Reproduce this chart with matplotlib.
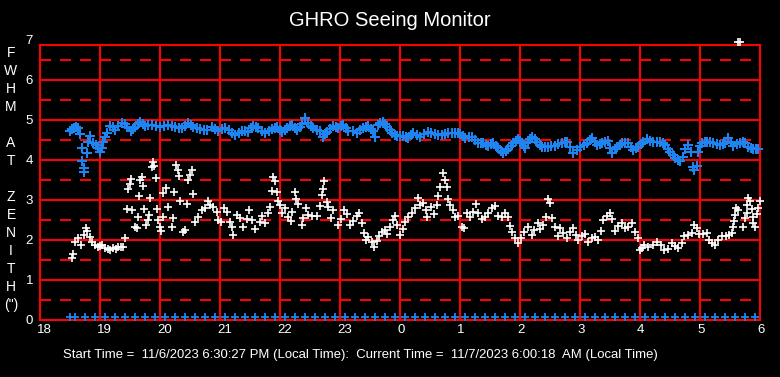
import matplotlib
matplotlib.use("Agg")
import matplotlib.pyplot as plt
import matplotlib.transforms as mtransforms
import numpy as np

plt.rcParams["font.family"] = ["Liberation Sans", "DejaVu Sans"]
plt.rcParams["lines.scale_dashes"] = False

# times are minutes after 18:00 local, FWHM in arcsec
blue_min = [30, 32, 34, 36, 38, 40, 50, 48, 42, 47, 42, 44, 44, 53, 56, 58, 60, 62, 63, 65,
            67, 70, 73, 75, 78, 82, 85, 87, 91, 93, 95, 98, 100, 103, 105, 108, 112, 116, 120, 124,
            128, 132, 135, 139, 142, 145, 148, 151, 153, 157, 160, 164, 167, 172, 175, 178, 182, 185, 189, 192,
            195, 199, 202, 205, 208, 211, 213, 216, 218, 222, 225, 229, 232, 235, 237, 240, 242, 245, 247, 250,
            252, 255, 257, 260, 262, 265, 268, 271, 273, 277, 280, 283, 285, 287, 290, 293, 296, 298, 301, 303,
            306, 308, 313, 317, 320, 323, 326, 328, 331, 333, 335, 338, 340, 343, 345, 347, 350, 352, 355, 357,
            360, 363, 366, 368, 371, 373, 377, 380, 384, 388, 391, 395, 398, 402, 405, 408, 412, 415, 418, 420,
            423, 425, 429, 432, 435, 438, 441, 443, 446, 448, 451, 453, 456, 458, 461, 463, 466, 468, 471, 473,
            476, 478, 480, 482, 484, 485, 488, 490, 492, 495, 497, 500, 502, 505, 508, 511, 515, 518, 522, 525,
            527, 530, 533, 537, 540, 544, 547, 550, 552, 555, 557, 560, 562, 565, 568, 570, 572, 575, 577, 580,
            582, 585, 588, 591, 593, 596, 598, 601, 603, 607, 610, 613, 617, 620, 623, 625, 628, 630, 633, 635,
            638, 640, 643, 645, 648, 651, 653, 654, 657, 658, 660, 662, 665, 667, 670, 673, 677, 680, 683, 685,
            688, 691, 693, 697, 700, 703, 705, 708, 711, 713, 716, 718]
blue_fwhm = [4.72, 4.78, 4.80, 4.83, 4.80, 4.65, 4.60, 4.45, 4.30, 4.17, 3.97, 3.80, 3.70, 4.42, 4.38, 4.30, 4.20, 4.30, 4.45, 4.58,
             4.67, 4.85, 4.82, 4.75, 4.85, 4.93, 4.90, 4.83, 4.73, 4.78, 4.83, 4.90, 4.95, 4.90, 4.85, 4.88, 4.88, 4.85, 4.83, 4.86,
             4.88, 4.84, 4.82, 4.80, 4.80, 4.86, 4.92, 4.87, 4.83, 4.80, 4.78, 4.76, 4.75, 4.82, 4.78, 4.73, 4.77, 4.80, 4.74, 4.68,
             4.62, 4.68, 4.73, 4.72, 4.70, 4.80, 4.85, 4.83, 4.80, 4.73, 4.67, 4.73, 4.78, 4.81, 4.83, 4.76, 4.70, 4.75, 4.80, 4.85,
             4.88, 4.80, 4.75, 4.82, 4.90, 5.05, 4.92, 4.85, 4.80, 4.76, 4.73, 4.58, 4.64, 4.70, 4.78, 4.85, 4.82, 4.80, 4.85, 4.88,
             4.80, 4.73, 4.73, 4.68, 4.74, 4.80, 4.83, 4.85, 4.78, 4.73, 4.58, 4.88, 4.92, 4.95, 4.90, 4.83, 4.75, 4.68, 4.63, 4.60,
             4.60, 4.60, 4.57, 4.55, 4.62, 4.67, 4.62, 4.58, 4.64, 4.70, 4.67, 4.65, 4.63, 4.62, 4.65, 4.68, 4.68, 4.68, 4.67, 4.65,
             4.60, 4.55, 4.57, 4.58, 4.50, 4.42, 4.43, 4.42, 4.38, 4.35, 4.40, 4.42, 4.36, 4.30, 4.23, 4.18, 4.23, 4.28, 4.36, 4.42,
             4.48, 4.53, 4.48, 4.43, 4.36, 4.30, 4.44, 4.52, 4.58, 4.52, 4.45, 4.38, 4.33, 4.33, 4.33, 4.34, 4.35, 4.39, 4.42, 4.44,
             4.45, 4.33, 4.18, 4.26, 4.33, 4.38, 4.42, 4.50, 4.55, 4.45, 4.38, 4.40, 4.42, 4.45, 4.48, 4.30, 4.18, 4.27, 4.33, 4.38,
             4.42, 4.42, 4.42, 4.33, 4.25, 4.30, 4.33, 4.40, 4.45, 4.53, 4.48, 4.45, 4.45, 4.45, 4.42, 4.38, 4.28, 4.20, 4.12, 4.05,
             4.00, 3.98, 4.08, 4.28, 4.38, 4.20, 3.83, 3.75, 3.85, 4.20, 4.35, 4.42, 4.45, 4.45, 4.44, 4.43, 4.40, 4.38, 4.40, 4.42,
             4.55, 4.45, 4.35, 4.40, 4.42, 4.44, 4.43, 4.32, 4.30, 4.28, 4.28, 4.28]

white_min = [32, 33, 35, 38, 41, 44, 46, 47, 50, 52, 55, 58, 60, 62, 65, 68, 70, 73, 76, 78,
             81, 83, 85, 87, 92, 88, 90, 91, 100, 102, 103, 99, 104, 98, 110, 109, 108, 106, 95, 97,
             116, 113, 114, 112, 117, 118, 120, 121, 123, 123, 126, 128, 132, 133, 134, 136, 138, 139, 140, 143,
             145, 147, 148, 150, 152, 153, 155, 158, 162, 165, 168, 170, 173, 177, 178, 181, 184, 187, 190, 192,
             193, 197, 200, 203, 207, 209, 212, 215, 220, 222, 225, 228, 230, 232, 233, 235, 237, 238, 240, 242,
             245, 248, 251, 252, 255, 256, 258, 262, 263, 266, 268, 272, 277, 280, 282, 283, 284, 287, 288, 291,
             293, 298, 301, 304, 307, 310, 313, 317, 319, 322, 324, 326, 328, 332, 334, 337, 339, 342, 345, 347,
             350, 353, 355, 357, 360, 363, 365, 368, 372, 375, 378, 380, 383, 386, 387, 391, 394, 397, 398, 400,
             403, 405, 407, 408, 410, 413, 415, 418, 422, 424, 427, 430, 433, 436, 438, 442, 445, 448, 452, 455,
             458, 462, 465, 468, 470, 472, 475, 478, 481, 484, 488, 492, 494, 498, 500, 503, 506, 508, 510, 512,
             515, 518, 520, 523, 527, 530, 533, 536, 538, 542, 545, 548, 552, 555, 558, 561, 563, 567, 570, 572,
             575, 578, 582, 585, 588, 592, 595, 598, 600, 602, 604, 608, 613, 617, 621, 624, 628, 632, 635, 638,
             642, 644, 648, 652, 654, 657, 659, 663, 667, 669, 672, 675, 678, 682, 686, 689, 692, 693, 694, 695,
             696, 698, 703, 705, 707, 708, 710, 707, 712, 713, 713, 715, 717, 718, 720, 698, 700]
white_fwhm = [1.55, 1.65, 1.95, 2.05, 1.88, 2.12, 2.30, 2.23, 2.08, 1.95, 1.88, 1.83, 1.85, 1.88, 1.80, 1.78, 1.75, 1.80, 1.78, 1.83,
              1.82, 1.83, 2.05, 2.78, 2.75, 3.28, 3.40, 3.53, 3.50, 3.58, 3.35, 3.10, 2.78, 2.58, 3.05, 2.63, 2.50, 2.38, 2.33, 2.30,
              3.55, 3.95, 3.85, 3.83, 2.78, 2.50, 2.33, 2.23, 2.58, 3.18, 3.30, 2.83, 2.33, 2.55, 3.20, 3.88, 3.75, 3.60, 2.98, 2.20,
              2.25, 2.90, 3.50, 3.63, 3.75, 3.15, 2.45, 2.58, 2.75, 2.80, 2.98, 2.88, 2.83, 2.70, 2.50, 2.45, 2.80, 2.70, 2.45, 2.33,
              2.12, 2.63, 2.55, 2.33, 2.53, 2.75, 2.50, 2.28, 2.45, 2.60, 2.43, 2.68, 2.83, 3.23, 3.58, 3.48, 3.20, 2.98, 2.88, 2.68,
              2.80, 2.58, 2.48, 2.70, 3.20, 3.03, 2.90, 2.38, 2.55, 2.80, 2.63, 2.60, 2.60, 2.85, 3.13, 3.28, 3.48, 2.95, 2.83, 2.55,
              2.75, 2.38, 2.53, 2.75, 2.65, 2.38, 2.48, 2.60, 2.68, 2.43, 2.18, 2.00, 2.08, 1.95, 1.83, 1.98, 2.10, 2.20, 2.25, 2.15,
              2.33, 2.50, 2.60, 2.38, 2.12, 2.28, 2.45, 2.58, 2.68, 2.80, 3.05, 2.88, 2.93, 2.75, 2.58, 2.83, 2.65, 2.88, 3.10, 3.33,
              3.68, 3.50, 3.33, 3.03, 2.88, 2.75, 2.58, 2.60, 2.33, 2.30, 2.68, 2.58, 2.70, 2.90, 2.68, 2.53, 2.58, 2.68, 2.80, 2.85,
              2.60, 2.58, 2.68, 2.58, 2.35, 2.20, 2.05, 1.93, 2.05, 2.20, 2.33, 2.12, 2.25, 2.43, 2.28, 2.38, 2.58, 3.03, 2.93, 2.55,
              2.33, 2.10, 2.30, 2.18, 2.05, 2.20, 2.30, 2.12, 2.00, 2.10, 2.15, 1.95, 2.05, 2.08, 2.00, 2.23, 2.50, 2.60, 2.68, 2.53,
              2.23, 2.35, 2.43, 2.30, 2.33, 2.43, 2.20, 2.05, 1.75, 1.80, 1.88, 1.83, 1.88, 1.95, 1.88, 1.75, 1.78, 1.93, 1.85, 1.80,
              1.93, 2.10, 2.12, 2.18, 2.38, 2.30, 2.15, 2.15, 2.18, 2.00, 1.93, 1.88, 2.00, 2.10, 2.10, 2.12, 2.18, 2.33, 2.48, 2.63,
              2.80, 2.75, 2.33, 2.55, 2.68, 3.05, 2.98, 2.88, 2.78, 2.58, 2.43, 2.33, 2.65, 2.80, 2.98, 6.94, 6.94]

# failed measurements, logged as zero
zero_min = [30, 35, 45, 55, 65, 75, 85, 95, 105, 115, 125, 135, 145, 155, 165, 175, 185, 195, 205, 215,
            225, 235, 245, 255, 265, 275, 285, 295, 305, 315, 325, 335, 345, 355, 365, 375, 385, 395, 405, 415,
            425, 435, 445, 455, 465, 475, 485, 495, 505, 515, 525, 535, 545, 555, 565, 575, 585, 595, 605, 615,
            625, 635, 645, 655, 665, 675, 685, 695, 705, 715]
zero_fwhm = [0.0] * len(zero_min)

x_ticks = [18, 19, 20, 21, 22, 23, 24, 25, 26, 27, 28, 29, 30]
x_labels = ["18", "19", "20", "21", "22", "23", "0", "1", "2", "3", "4", "5", "6"]
y_ticks = [0, 1, 2, 3, 4, 5, 6, 7]
ylabel_letters = ["F", "W", "H", "M", "", "A", "T", "", "Z", "E", "N", "I", "T", "H", "(\")"]

start_txt = "Start Time =  11/6/2023 6:30:27 PM (Local Time):  Current Time =  11/7/2023 6:00:18  AM (Local Time)"

BLUE = "#1E84F0"
RED = "#FF0000"
TOP = 6.875
LW = 1.5


def to_hours(minutes):
    return 18 + np.array(minutes, dtype=float) / 60.0


fig = plt.figure(figsize=(7.8, 3.77), dpi=100, facecolor="black")
ax = fig.add_axes([40 / 780, 57 / 377, 720 / 780, 280 / 377])
ax.set_facecolor("black")
ax.set_xlim(18, 30)
ax.set_ylim(0, 7)

# frame
for side in ["left", "right", "bottom", "top"]:
    ax.spines[side].set_color(RED)
    ax.spines[side].set_linewidth(LW)
ax.spines["top"].set_position(("data", TOP))
ax.spines["left"].set_bounds(0, TOP)
ax.spines["right"].set_bounds(0, TOP)

# grid
ax.vlines(x_ticks[1:-1], 0, TOP, color=RED, lw=LW, zorder=1)
for v in range(1, 7):
    ax.axhline(v, color=RED, lw=LW, zorder=1)
for v in np.arange(0.5, 7, 1.0):
    ax.axhline(v, color=RED, lw=LW, ls=(0, (7.92, 6.48)), zorder=1)

# data
ax.plot(to_hours(blue_min), blue_fwhm, ls="none", marker="+", ms=6.5, mew=1.5,
        color=BLUE, zorder=3, clip_on=False)
ax.plot(to_hours(white_min), white_fwhm, ls="none", marker="+", ms=6, mew=1.2,
        color="white", zorder=4, clip_on=False)
zero_tr = mtransforms.offset_copy(ax.transData, fig=fig, y=3.5, units="dots")
ax.plot(to_hours(zero_min), zero_fwhm, ls="none", marker="+", ms=5.5, mew=1.3,
        color=BLUE, zorder=3, transform=zero_tr, clip_on=False)

# ticks
ax.set_xticks(x_ticks)
ax.set_xticklabels(x_labels)
ax.set_yticks(y_ticks)
ax.tick_params(length=0, colors="white", labelsize=9.5)
ax.tick_params(axis="x", pad=3)
ax.tick_params(axis="y", pad=5)
shift = mtransforms.ScaledTranslation(-3 / 100, 0, fig.dpi_scale_trans)
for lbl in ax.get_xticklabels():
    lbl.set_horizontalalignment("left")
    lbl.set_transform(lbl.get_transform() + shift)

# titles
fig.text(0.5, 1 - 20 / 377, "GHRO Seeing Monitor", color="white", fontsize=14.5,
         ha="center", va="center")
for i, ch in enumerate(ylabel_letters):
    if ch:
        fig.text(11 / 780, 1 - (53 + 18 * i) / 377, ch, color="white", fontsize=10,
                 ha="center", va="center")
fig.text(63 / 780, 1 - 355 / 377, start_txt, color="white", fontsize=9.45,
         ha="left", va="center")

fig.savefig("out.png", dpi=100, facecolor="black")
